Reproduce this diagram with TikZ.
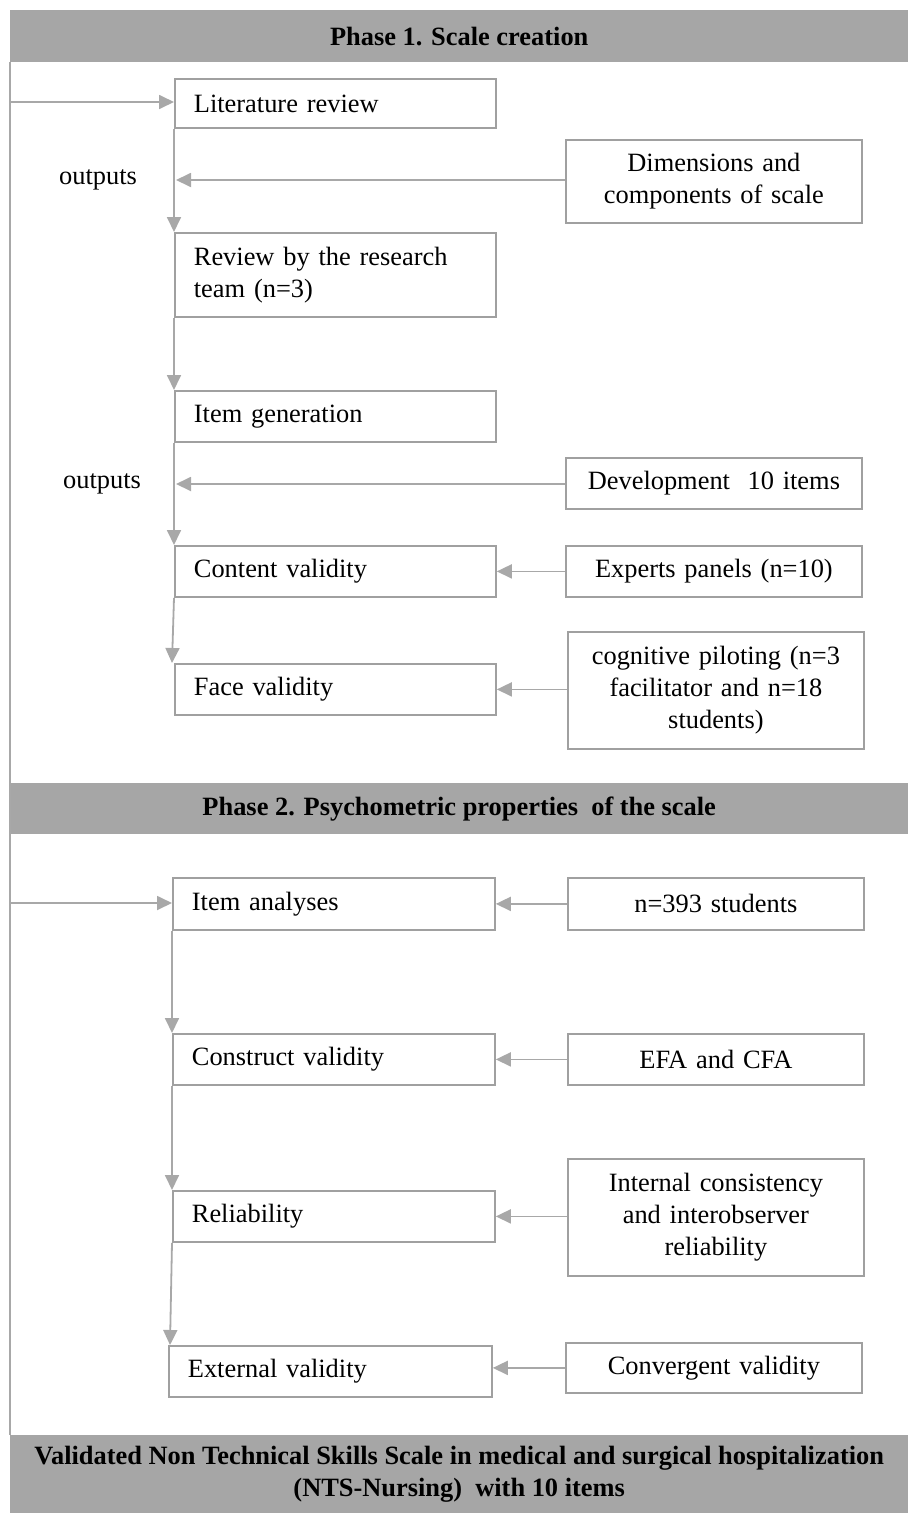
\documentclass[tikz,border=0pt]{standalone}
\usepackage{fontspec}
\setmainfont{Liberation Serif}
\usetikzlibrary{arrows.meta}
\definecolor{barfill}{RGB}{166,166,166}
\definecolor{linegray}{RGB}{168,168,168}
\definecolor{boxgray}{RGB}{160,160,160}
\tikzset{
  every node/.style={font=\fontsize{26.4}{32}\selectfont, text=black},
  lbox/.style={draw=boxgray, line width=1.8pt, fill=white, anchor=north west,
    inner xsep=19pt, inner ysep=0pt, align=left},
  rbox/.style={draw=boxgray, line width=1.8pt, fill=white, anchor=north west,
    inner xsep=4pt, inner ysep=0pt, align=center},
  bar/.style={fill=barfill, anchor=north west, inner sep=0pt, minimum width=898pt,
    align=center, font=\fontsize{26.4}{32}\selectfont\bfseries},
  arr/.style={draw=linegray, line width=1.8pt, -{Triangle[length=15pt,width=14pt]}},
  ln/.style={draw=linegray, line width=1.8pt},
}
\begin{document}
\begin{tikzpicture}[x=1pt,y=-1pt]
\useasboundingbox (0,0) rectangle (909,1513);
% bars
\node[bar, minimum height=52pt] (bar1) at (10,10) {Phase 1. Scale creation};
\node[bar, minimum height=51pt] (bar2) at (10,783) {Phase 2. Psychometric properties\ \ of the scale};
\node[bar, minimum height=78pt] (bar3) at (10,1435) {Validated Non Technical Skills Scale in medical and surgical hospitalization\\(NTS-Nursing)\ \ with 10 items};
\draw[ln] (bar1.south west) -- (bar3.north west);
% phase 1 left boxes
\node[lbox, text width=283pt, minimum height=49pt] (lit) at (174,78) {Literature review};
\node[lbox, text width=283pt, minimum height=84pt] (rev) at (174,232) {Review by the research\\team (n=3)};
\node[lbox, text width=283pt, minimum height=51pt] (gen) at (174,390) {Item generation};
\node[lbox, text width=283pt, minimum height=51pt] (cv) at (174,545) {Content validity};
\node[lbox, text width=283pt, minimum height=51pt] (fv) at (174,663) {Face validity};
% phase 1 right boxes
\node[rbox, text width=288pt, minimum height=83pt] (dim) at (565,139) {Dimensions and\\components of scale};
\node[rbox, text width=288pt, minimum height=51pt] (dev) at (565,457) {Development\ \ 10 items};
\node[rbox, text width=288pt, minimum height=51pt] (exp) at (565,545) {Experts panels (n=10)};
\node[rbox, text width=288pt, minimum height=117pt] (cog) at (567,631) {cognitive piloting (n=3\\facilitator and n=18\\students)};
% outputs labels
\node (out1) at (98,180) {outputs};
\node (out2) at (102,484) {outputs};
% phase 2 left boxes
\node[lbox, text width=284pt, minimum height=52pt] (ia) at (172,877) {Item analyses};
\node[lbox, text width=284pt, minimum height=51pt] (cons) at (172,1033) {Construct validity};
\node[lbox, text width=284pt, minimum height=51pt] (rel) at (172,1190) {Reliability};
\node[lbox, text width=285pt, minimum height=51pt] (ext) at (168,1345) {External validity};
% phase 2 right boxes
\node[rbox, text width=288pt, minimum height=52pt] (n393) at (567,877) {n=393 students};
\node[rbox, text width=288pt, minimum height=51pt] (efa) at (567,1033) {EFA and CFA};
\node[rbox, text width=288pt, minimum height=117pt] (ic) at (567,1158) {Internal consistency\\and interobserver\\reliability};
\node[rbox, text width=288pt, minimum height=50pt] (conv) at (565,1342) {Convergent validity};
% entry coordinates
\coordinate (e1) at (10,102);
\coordinate (e2) at (10,903);
\coordinate (o1) at (176,180);
\coordinate (o2) at (176,484);
% connectors phase 1
\draw[arr] (e1) -- (e1 -| lit.west);
\draw[arr] (lit.south west) -- (rev.north west);
\draw[arr] (o1 -| dim.west) -- (o1);
\draw[arr] (rev.south west) -- (gen.north west);
\draw[arr] (gen.south west) -- (cv.north west);
\draw[arr] (o2 -| dev.west) -- (o2);
\draw[arr] (cv.south west) -- ([xshift=-2pt]fv.north west);
\draw[arr] (exp.west) -- (exp.west -| cv.east);
\draw[arr] (fv.east -| cog.west) -- (fv.east);
% connectors phase 2
\draw[arr] (e2) -- (e2 -| ia.west);
\draw[arr] (n393.west) -- (n393.west -| ia.east);
\draw[arr] (ia.south west) -- (cons.north west);
\draw[arr] (efa.west) -- (efa.west -| cons.east);
\draw[arr] (cons.south west) -- (rel.north west);
\draw[arr] (rel.east -| ic.west) -- (rel.east);
\draw[arr] (rel.south west) -- ([xshift=2pt]ext.north west);
\draw[arr] (conv.west) -- (conv.west -| ext.east);
\end{tikzpicture}
\end{document}
